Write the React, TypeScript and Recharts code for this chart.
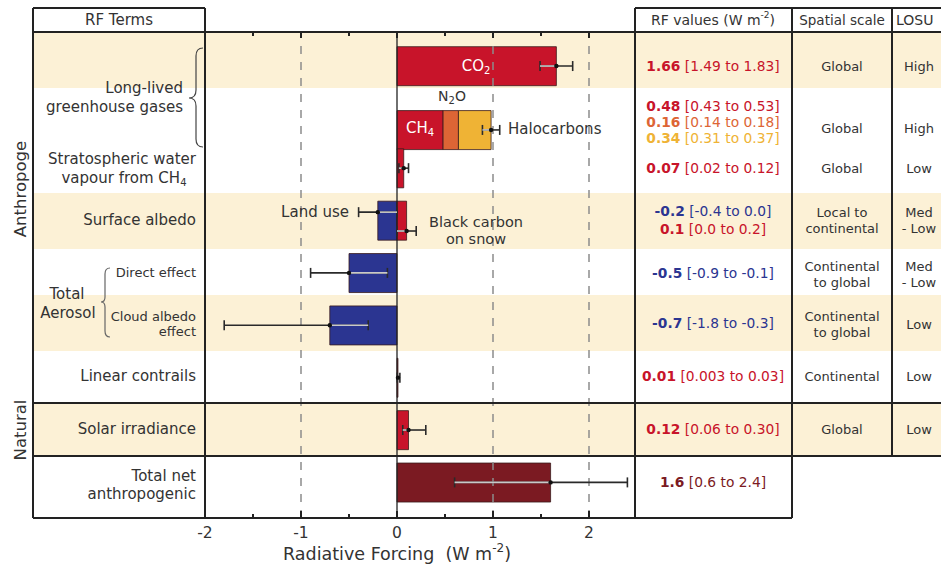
import React from 'react';
import { ComposedChart, Bar, Cell, XAxis, YAxis, Scatter, ErrorBar, ReferenceLine, Rectangle } from 'recharts';

const W = 941;
const H = 567;
const PLOT = { left: 205, right: 637, top: 32, bottom: 518 };
const POS_DOMAIN: [number, number] = [-0.6, 8.68];
const BAR_H = 39;
const FONT = '"DejaVu Sans", Arial, sans-serif';

const RED = '#C8142A';
const ORANGE = '#DD6535';
const YELLOW = '#EFB335';
const BLUE = '#2B3591';
const DARKRED = '#7B1A22';
const BEIGE = '#FCF1D6';
const INK = '#222';

// bar rows (top to bottom)
const terms = ['CO2', 'LLGHG', 'StratH2O', 'SurfaceAlbedo', 'DirectEffect', 'CloudAlbedo', 'Contrails', 'Solar', 'TotalNet'];
const rowPos = [0.05, 1.27, 2, 3, 4, 5, 6, 7, 8];
const baseRF = [1.66, 0.48, 0.07, -0.2, -0.5, -0.7, 0.01, 0.12, 1.6];
const secondRF = [null, 0.16, null, 0.1, null, null, null, null, null]; // N2O, black carbon on snow
const thirdRF = [null, 0.34, null, null, null, null, null, null, null]; // halocarbons
const baseColor = [RED, RED, RED, BLUE, BLUE, BLUE, RED, RED, DARKRED];
const secondColor = [RED, ORANGE, RED, RED, RED, RED, RED, RED, RED];

// uncertainty ranges
const errPos = [0.05, 1.27, 2, 2.84, 3.2, 4, 5, 6, 7, 8];
const errBest = [1.66, 0.98, 0.07, -0.2, 0.1, -0.5, -0.7, 0.01, 0.12, 1.6];
const errLow = [1.49, 0.89, 0.02, -0.4, 0.0, -0.9, -1.8, 0.003, 0.06, 0.6];
const errHigh = [1.83, 1.07, 0.12, 0.0, 0.2, -0.1, -0.3, 0.03, 0.3, 2.4];

const tickVals = [-2, -1.5, -1, -0.5, 0, 0.5, 1, 1.5, 2];

// table text
const rfBest = ['1.66', '0.48', '0.16', '0.34', '0.07', '-0.2', '0.1', '-0.5', '-0.7', '0.01', '0.12', '1.6'];
const rfRange = ['[1.49 to 1.83]', '[0.43 to 0.53]', '[0.14 to 0.18]', '[0.31 to 0.37]', '[0.02 to 0.12]', '[-0.4 to 0.0]', '[0.0 to 0.2]', '[-0.9 to -0.1]', '[-1.8 to -0.3]', '[0.003 to 0.03]', '[0.06 to 0.30]', '[0.6 to 2.4]'];
const rfColor = [RED, RED, ORANGE, YELLOW, RED, BLUE, RED, BLUE, BLUE, RED, RED, DARKRED];
const rfY = [66, 106, 122, 138, 168, 211, 229, 273, 323, 376, 429, 482];

const scaleText = [['Global'], ['Global'], ['Global'], ['Local to', 'continental'], ['Continental', 'to global'], ['Continental', 'to global'], ['Continental'], ['Global']];
const losuText = [['High'], ['High'], ['Low'], ['Med', '- Low'], ['Med', '- Low'], ['Low'], ['Low'], ['Low']];
const tableRowY = [66, 128, 168, 220, 274, 324, 376, 429];

const bandEdges = [32, 88, 145, 193, 249, 295, 351, 403, 456, 518];
const shaded = [true, false, false, true, false, true, false, true, false];

const rows = terms.map((t, i) => ({
  term: t,
  pos: rowPos[i],
  base: baseRF[i],
  second: secondRF[i],
  third: thirdRF[i],
}));

const errRows = errBest.map((b, i) => ({
  pos: errPos[i],
  best: b,
  full: [b - errLow[i], errHigh[i] - b],
  inner: b >= 0 ? [b - Math.max(errLow[i], 0), 0] : [0, Math.min(errHigh[i], 0) - b],
}));

function BottomTick(props: any) {
  const { x, y, payload } = props;
  const v = payload.value as number;
  const major = Number.isInteger(v);
  return (
    <g>
      <line x1={x} x2={x} y1={y} y2={y - (major ? 7 : 4)} stroke={INK} strokeWidth={2} />
      {major && (
        <text x={x} y={y + 15} textAnchor="middle" dominantBaseline="central" fontSize={15.5} fill="#333" fontFamily={FONT}>
          {v}
        </text>
      )}
    </g>
  );
}

function TopTick(props: any) {
  const { x, y, payload } = props;
  const major = Number.isInteger(payload.value);
  return <line x1={x} x2={x} y1={y} y2={y + (major ? 6 : 4)} stroke={INK} strokeWidth={2} />;
}

// keep the bar centred on its row position, with the figure's bar thickness
const RowBar = (p: any) => {
  if (!p.width) return <g />;
  const cy = p.y + p.height / 2;
  return <Rectangle x={p.x} y={cy - BAR_H / 2} width={p.width} height={BAR_H} fill={p.fill} stroke="#3a1a1a" strokeWidth={0.8} />;
};

const Dot = (p: any) => <circle cx={p.cx} cy={p.cy} r={2.2} fill="#111" />;
const NoShape = () => <g />;

function T(props: any) {
  const { children, size = 15, anchor = 'end', color = '#333', weight, ...rest } = props;
  return (
    <text
      textAnchor={anchor}
      dominantBaseline="central"
      fontSize={size}
      fill={color}
      fontFamily={FONT}
      fontWeight={weight}
      style={{ whiteSpace: 'pre' }}
      {...rest}
    >
      {children}
    </text>
  );
}

export default function App() {
  return (
    <div style={{ position: 'absolute', left: 0, top: 0, width: W, height: H, background: '#fff', overflow: 'hidden' }}>
      {/* row shading */}
      <svg width={W} height={H} style={{ position: 'absolute', left: 0, top: 0 }}>
        {shaded.map((s, i) =>
          s ? <rect key={i} x={33} y={bandEdges[i]} width={W - 33} height={bandEdges[i + 1] - bandEdges[i]} fill={BEIGE} /> : null
        )}
      </svg>

      <div style={{ position: 'absolute', left: 0, top: 0 }}>
        <ComposedChart
          width={W}
          height={H}
          layout="vertical"
          data={rows}
          stackOffset="sign"
          margin={{ top: PLOT.top - 10, right: W - PLOT.right, bottom: H - PLOT.bottom - 20, left: PLOT.left }}
        >
          <XAxis
            type="number"
            domain={[-2, 2.5]}
            ticks={tickVals}
            interval={0}
            tick={<BottomTick />}
            tickLine={false}
            axisLine={false}
            tickSize={0}
            tickMargin={0}
            height={20}
            allowDataOverflow
          />
          <XAxis
            xAxisId="top"
            orientation="top"
            type="number"
            domain={[-2, 2.5]}
            ticks={tickVals}
            interval={0}
            tick={<TopTick />}
            tickLine={false}
            axisLine={false}
            tickSize={0}
            tickMargin={0}
            height={10}
            allowDataOverflow
          />
          <YAxis type="number" dataKey="pos" domain={POS_DOMAIN} hide allowDataOverflow />
          <ReferenceLine x={-1} stroke="#8c8c8c" strokeWidth={1.5} strokeDasharray="8 8" />
          <ReferenceLine x={1} stroke="#8c8c8c" strokeWidth={1.5} strokeDasharray="8 8" />
          <ReferenceLine x={2} stroke="#8c8c8c" strokeWidth={1.5} strokeDasharray="8 8" />
          <Bar dataKey="base" stackId="rf" shape={RowBar} isAnimationActive={false}>
            {rows.map((r, i) => (
              <Cell key={r.term} fill={baseColor[i]} />
            ))}
          </Bar>
          <Bar dataKey="second" stackId="rf" shape={RowBar} isAnimationActive={false}>
            {rows.map((r, i) => (
              <Cell key={r.term} fill={secondColor[i]} />
            ))}
          </Bar>
          <Bar dataKey="third" stackId="rf" shape={RowBar} fill={YELLOW} isAnimationActive={false} />
          <ReferenceLine x={0} stroke={INK} strokeWidth={1.3} />
          <Scatter data={errRows} dataKey="best" shape={NoShape} isAnimationActive={false}>
            <ErrorBar dataKey="full" direction="x" width={5} stroke="#2a2a2a" strokeWidth={1.6} />
          </Scatter>
          <Scatter data={errRows} dataKey="best" shape={Dot} isAnimationActive={false}>
            <ErrorBar dataKey="inner" direction="x" width={0} stroke="#c9c9c9" strokeWidth={1.6} />
          </Scatter>
        </ComposedChart>
      </div>

      {/* frame, labels and table */}
      <svg width={W} height={H} style={{ position: 'absolute', left: 0, top: 0, pointerEvents: 'none' }}>
        <g stroke={INK} strokeWidth={2}>
          <line x1={33} x2={205} y1={8} y2={8} />
          <line x1={635} x2={W} y1={8} y2={8} />
          <line x1={33} x2={W} y1={32} y2={32} />
          <line x1={33} x2={W} y1={403} y2={403} />
          <line x1={33} x2={W} y1={456} y2={456} />
          <line x1={33} x2={792} y1={518} y2={518} />
          <line x1={33} x2={33} y1={8} y2={518} />
          <line x1={205} x2={205} y1={8} y2={518} />
          <line x1={635} x2={635} y1={8} y2={518} />
          <line x1={792} x2={792} y1={8} y2={518} />
          <line x1={892} x2={892} y1={8} y2={456} />
        </g>

        {/* headers */}
        <T x={119} y={20} anchor="middle">RF Terms</T>
        <T x={713} y={20} anchor="middle" size={14}>
          RF values (W m<tspan dy={-5} fontSize={9}>-2</tspan>
          <tspan dy={5}>)</tspan>
        </T>
        <T x={842} y={20} anchor="middle" size={13.5}>Spatial scale</T>
        <T x={896} y={20} anchor="start" size={14}>LOSU</T>

        {/* vertical group labels */}
        <T x={0} y={0} anchor="middle" size={16.5} transform="translate(20,189) rotate(-90)">Anthropoge</T>
        <T x={0} y={0} anchor="middle" size={16.5} transform="translate(20,430) rotate(-90)">Natural</T>

        {/* RF term labels */}
        <T x={183} y={88}>Long-lived</T>
        <T x={183} y={107}>greenhouse gases</T>
        <path d="M203 48 Q196 48 196 56 L196 90 Q196 98 189 98 Q196 98 196 106 L196 139 Q196 147 203 147" fill="none" stroke="#444" strokeWidth={1.2} />
        <T x={122} y={159} anchor="middle">Stratospheric water</T>
        <T x={124} y={178} anchor="middle">
          vapour from CH<tspan dy={4} fontSize={10}>4</tspan>
        </T>
        <T x={196} y={220}>Surface albedo</T>
        <T x={196} y={272} size={13}>Direct effect</T>
        <T x={67} y={294} anchor="middle">Total</T>
        <T x={68} y={313} anchor="middle">Aerosol</T>
        <path d="M110 268 Q105 268 105 274 L105 297 Q105 302 101 302 Q105 302 105 307 L105 331 Q105 337 110 337" fill="none" stroke="#666" strokeWidth={1.2} />
        <T x={196} y={316} size={13}>Cloud albedo</T>
        <T x={196} y={331} size={13}>effect</T>
        <T x={196} y={376}>Linear contrails</T>
        <T x={196} y={429}>Solar irradiance</T>
        <T x={196} y={476}>Total net</T>
        <T x={196} y={494}>anthropogenic</T>

        {/* annotations in the plot */}
        <T x={476} y={66} anchor="middle" color="#fff">
          CO<tspan dy={4} fontSize={10}>2</tspan>
        </T>
        <T x={452} y={96} anchor="middle" size={14}>
          N<tspan dy={4} fontSize={10}>2</tspan>
          <tspan dy={-4}>O</tspan>
        </T>
        <T x={420} y={128} anchor="middle" color="#fff">
          CH<tspan dy={4} fontSize={10}>4</tspan>
        </T>
        <T x={508} y={129} anchor="start">Halocarbons</T>
        <T x={349} y={212}>Land use</T>
        <T x={476} y={222} anchor="middle" size={14.5}>Black carbon</T>
        <T x={476} y={239} anchor="middle" size={14.5}>on snow</T>

        {/* axis title */}
        <T x={397} y={554} anchor="middle" size={17.5}>
          Radiative Forcing  (W m<tspan dy={-6} fontSize={12}>-2</tspan>
          <tspan dy={6}>)</tspan>
        </T>

        {/* RF values column */}
        {rfBest.map((b, i) => (
          <T key={i} x={713} y={rfY[i]} anchor="middle" size={13.8} color={rfColor[i]}>
            <tspan fontWeight="bold">{b}</tspan> {rfRange[i]}
          </T>
        ))}

        {/* spatial scale and LOSU */}
        {scaleText.map((lines, i) =>
          lines.map((l, j) => (
            <T key={`s${i}${j}`} x={842} y={tableRowY[i] + (j - (lines.length - 1) / 2) * 16} anchor="middle" size={13}>
              {l}
            </T>
          ))
        )}
        {losuText.map((lines, i) =>
          lines.map((l, j) => (
            <T key={`l${i}${j}`} x={919} y={tableRowY[i] + (j - (lines.length - 1) / 2) * 16} anchor="middle" size={13}>
              {l}
            </T>
          ))
        )}
      </svg>
    </div>
  );
}
